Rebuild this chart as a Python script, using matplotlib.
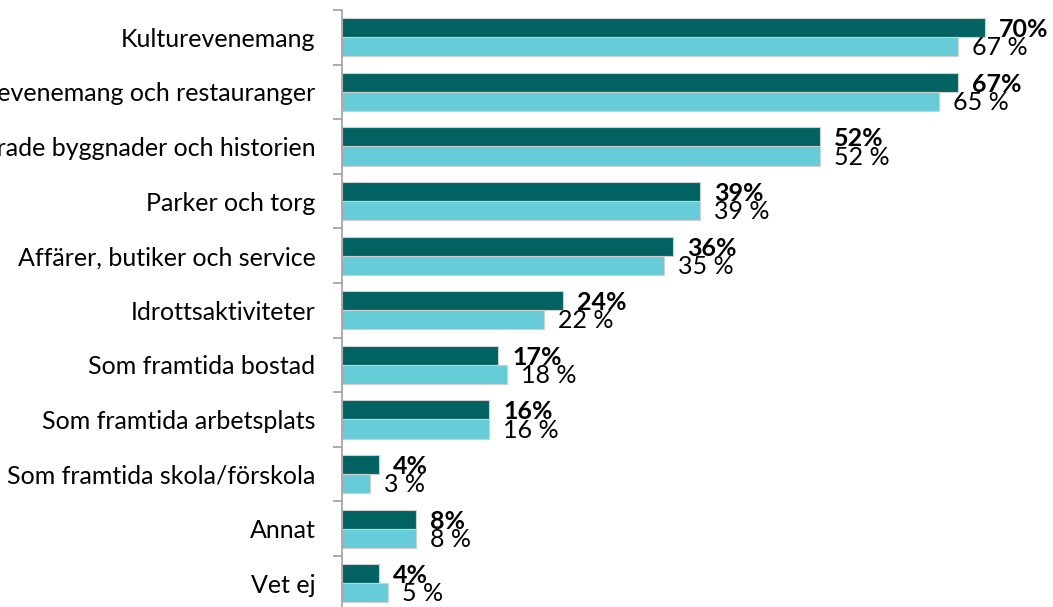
import matplotlib
matplotlib.use("Agg")
import matplotlib.pyplot as plt
import numpy as np

categories = [
    "Kulturevenemang",
    "Nöjen, evenemang och restauranger",
    "Bevarade byggnader och historien",
    "Parker och torg",
    "Affärer, butiker och service",
    "Idrottsaktiviteter",
    "Som framtida bostad",
    "Som framtida arbetsplats",
    "Som framtida skola/förskola",
    "Annat",
    "Vet ej",
]
series_dark = [70, 67, 52, 39, 36, 24, 17, 16, 4, 8, 4]
series_light = [67, 65, 52, 39, 35, 22, 18, 16, 3, 8, 5]

DARK = "#006361"
LIGHT = "#66CCD8"

plt.rcParams['font.family'] = ['Lato', 'DejaVu Sans']

W, H = 1053, 607
fig = plt.figure(figsize=(W / 100, H / 100), dpi=100)
left = 342 / W
top = 1 - 10 / H
cat_h = 54.6
bottom = 1 - (10 + 11 * cat_h) / H
xmax = 75
right = (342 + xmax * 9.19) / W
ax = fig.add_axes([left, bottom, right - left, top - bottom])

n = len(categories)
y = np.arange(n)
bh = 0.35
ax.barh(y - bh / 2, series_dark, height=bh, color=DARK, edgecolor="#d0d0d0", linewidth=0.8)
ax.barh(y + bh / 2, series_light, height=bh, color=LIGHT, edgecolor="#d0d0d0", linewidth=0.8)

ax.set_ylim(n - 0.5, -0.5)
ax.set_xlim(0, xmax)

for i in range(n):
    ax.annotate(f"{series_dark[i]}%", xy=(series_dark[i], y[i] - bh / 2),
                xytext=(14, -2), textcoords="offset pixels", ha="left", va="center",
                fontsize=18, fontweight="bold", color="black", annotation_clip=False)
    ax.annotate(f"{series_light[i]} %", xy=(series_light[i], y[i] + bh / 2),
                xytext=(14, -1), textcoords="offset pixels", ha="left", va="center",
                fontsize=18, color="black", annotation_clip=False)

ax.set_yticks(y)
ax.set_yticklabels(categories, fontsize=18)
ax.tick_params(axis="y", which="major", length=0, pad=19)
ax.set_yticks(np.arange(-0.5, n, 1), minor=True)
ax.tick_params(axis="y", which="minor", length=6.5, width=1.2, color="#a0a0a0")
ax.set_xticks([])

for s in ["top", "right", "bottom"]:
    ax.spines[s].set_visible(False)
ax.spines["left"].set_color("#a0a0a0")
ax.spines["left"].set_linewidth(1.2)

fig.savefig("out.png", dpi=100)
